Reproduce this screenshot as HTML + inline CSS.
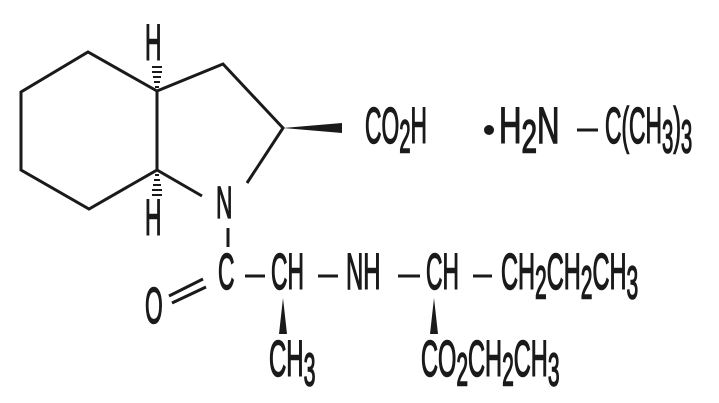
<!DOCTYPE html>
<html><head><meta charset="utf-8"><style>
html,body{margin:0;padding:0;background:#fff;width:719px;height:403px;overflow:hidden}
</style></head><body>
<svg width="719" height="403" viewBox="0 0 719 403" xmlns="http://www.w3.org/2000/svg">
<g stroke="#1a1a1a" stroke-width="3" fill="none" stroke-linecap="butt">
<polyline points="157,91 88,52 21,92 21,170 89,209 157,170 157,91 223,64 283,128 247,183"/>
<line x1="157" y1="170" x2="202" y2="196"/>
<line x1="228" y1="228" x2="228" y2="247"/>
<line x1="169" y1="296" x2="203" y2="279"/>
<line x1="172" y1="303" x2="206" y2="287"/>
<line x1="245" y1="276" x2="265" y2="276"/>
<line x1="318" y1="276" x2="338" y2="276"/>
<line x1="398" y1="276" x2="420" y2="276"/>
<line x1="473" y1="276" x2="492" y2="276"/>
<line x1="577" y1="130" x2="598" y2="130"/>
</g>
<g fill="#1a1a1a">
<polygon points="283,128 342,123 342,133"/>
<polygon points="283,298 279,334 287,334"/>
<polygon points="434,298 430,334 438,334"/>
<circle cx="489" cy="130" r="5"/>
<rect x="155" y="86" width="4" height="2"/><rect x="154" y="81" width="6" height="2"/><rect x="153" y="76" width="8" height="2"/><rect x="152" y="71" width="10" height="2"/><rect x="152" y="66" width="10" height="2"/>
<rect x="155" y="174" width="4" height="2"/><rect x="154" y="179" width="6" height="2"/><rect x="153" y="184" width="8" height="2"/><rect x="152" y="189" width="10" height="2"/><rect x="152" y="194" width="10" height="2"/>
</g>
<g font-family="Liberation Sans, sans-serif" font-size="38" fill="#1a1a1a" stroke="#1a1a1a" stroke-width="1.1">
<text transform="translate(145,60) scale(0.6,1.35)">H</text>
<text transform="translate(145,235) scale(0.6,1.35)">H</text>
<text transform="translate(216,218) scale(0.6,1.2)">N</text>
<text transform="translate(365,143) scale(0.6,1.35)">CO<tspan font-size="34" dy="7">2</tspan><tspan dy="-7">H</tspan></text>
<text transform="translate(499,143) scale(0.82,1.35)">H<tspan font-size="34" dy="7">2</tspan><tspan dy="-7">N</tspan></text>
<text transform="translate(605,143) scale(0.6,1.35)">C(CH<tspan font-size="34" dy="7">3</tspan><tspan dy="-7">)</tspan><tspan font-size="34" dy="7">3</tspan></text>
<text transform="translate(218,289) scale(0.6,1.35)">C</text>
<text transform="translate(271,289) scale(0.6,1.35)">CH</text>
<text transform="translate(346,289) scale(0.63,1.35)">NH</text>
<text transform="translate(426,289) scale(0.6,1.35)">CH</text>
<text transform="translate(501,289) scale(0.62,1.35)">CH<tspan font-size="34" dy="7">2</tspan><tspan dy="-7">CH</tspan><tspan font-size="34" dy="7">2</tspan><tspan dy="-7">CH</tspan><tspan font-size="34" dy="7">3</tspan></text>
<text transform="translate(145,323) scale(0.6,1.35)">O</text>
<text transform="translate(269,376) scale(0.63,1.35)">CH<tspan font-size="34" dy="7">3</tspan></text>
<text transform="translate(421,376) scale(0.62,1.35)">CO<tspan font-size="34" dy="7">2</tspan><tspan dy="-7">CH</tspan><tspan font-size="34" dy="7">2</tspan><tspan dy="-7">CH</tspan><tspan font-size="34" dy="7">3</tspan></text>
</g>
</svg>
</body></html>
